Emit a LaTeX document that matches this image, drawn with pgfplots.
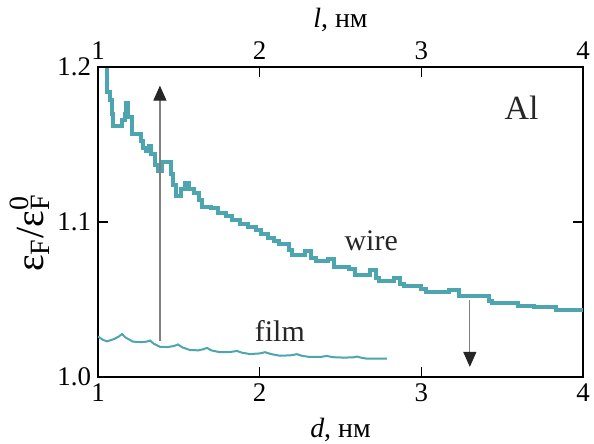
\documentclass[border=0pt]{standalone}
\usepackage{fontspec}
\setmainfont{Liberation Serif}
\usepackage{pgfplots}
\pgfplotsset{compat=1.18}
\usetikzlibrary{arrows.meta}
\definecolor{teal1}{RGB}{77,165,175}
\begin{document}
\begin{tikzpicture}
\begin{axis}[
 name=main,
 scale only axis, width=242.5bp, height=155bp,
 xmin=1, xmax=4, ymin=1.0, ymax=1.2,
 xtick={1,2,3,4}, xticklabels={1,2,3,4},
 ytick={1.0,1.1,1.2}, yticklabels={1.0,1.1,1.2},
 tick align=inside, tick pos=both, xticklabel pos=bottom,
 major tick length=5bp,
 axis line style={line width=1bp},
 tick style={line width=0.8bp, black},
 ticklabel style={font=\rmfamily\fontsize{13.5}{15}\selectfont},
 /pgf/number format/assume math mode=true,
 xlabel={\textit{d}, нм},
 xlabel style={font=\fontsize{14}{16}\selectfont, at={(axis description cs:0.5,-0.171)}, anchor=center},
 ylabel={ε\textsubscript{F}/ε\rlap{\textsuperscript{0}}\textsubscript{F}\hphantom{F}},
 ylabel style={font=\fontsize{20}{22}\selectfont, inner sep=1pt, at={(axis description cs:-0.14,0.5)}, anchor=center},
 clip=true,
]
\addplot[const plot, teal1, line width=2bp] coordinates {
(1.040,1.210) (1.056,1.184) (1.075,1.179) (1.088,1.170) (1.093,1.162)
(1.150,1.166) (1.166,1.170) (1.174,1.177) (1.188,1.168) (1.208,1.157)
(1.265,1.152) (1.278,1.148) (1.295,1.146) (1.315,1.149) (1.330,1.144)
(1.350,1.137) (1.370,1.133) (1.395,1.139) (1.450,1.131) (1.465,1.124)
(1.485,1.117) (1.515,1.121) (1.540,1.125) (1.565,1.121) (1.595,1.119)
(1.625,1.114) (1.645,1.110) (1.700,1.109) (1.740,1.106) (1.790,1.104)
(1.830,1.101) (1.880,1.099) (1.930,1.097) (1.980,1.095) (2.010,1.092)
(2.050,1.090) (2.090,1.088) (2.120,1.0858) (2.180,1.082) (2.200,1.079)
(2.280,1.081) (2.320,1.077) (2.350,1.075) (2.420,1.076) (2.460,1.071)
(2.550,1.070) (2.590,1.066) (2.680,1.069) (2.720,1.064) (2.740,1.062)
(2.830,1.064) (2.870,1.060) (2.890,1.059) (3.000,1.057) (3.030,1.055)
(3.170,1.056) (3.230,1.052) (3.420,1.049) (3.440,1.048) (3.600,1.046)
(3.700,1.045) (3.830,1.043) (4.000,1.043)
};
\addplot[teal1, line width=1bp] coordinates {
(1.000,1.0262) (1.030,1.0240) (1.056,1.0230) (1.100,1.0245) (1.130,1.0262)
(1.148,1.0277) (1.170,1.0255) (1.216,1.0228) (1.270,1.0225) (1.300,1.0228)
(1.322,1.0235) (1.345,1.0215) (1.383,1.0195) (1.430,1.0193) (1.470,1.0200)
(1.495,1.0210) (1.520,1.0192) (1.569,1.0174) (1.620,1.0172) (1.655,1.0180)
(1.674,1.0188) (1.700,1.0172) (1.754,1.0160) (1.810,1.0160) (1.860,1.0168)
(1.890,1.0157) (1.940,1.0148) (2.000,1.0152) (2.033,1.0160) (2.070,1.0148)
(2.126,1.0137) (2.190,1.0140) (2.231,1.0147) (2.260,1.0137) (2.311,1.0129)
(2.380,1.0130) (2.416,1.0136) (2.450,1.0128) (2.520,1.0125) (2.580,1.0127)
(2.602,1.0132) (2.630,1.0124) (2.664,1.0118) (2.787,1.0118)
};
\draw[black!50, line width=0.6bp, -{Triangle[length=7.5bp,width=6.5bp,color=black!85]}]
 (axis cs:1.383,1.023) -- (axis cs:1.383,1.188);
\draw[black!50, line width=0.6bp, -{Triangle[length=7.5bp,width=6.5bp,color=black!85]}]
 (axis cs:3.30,1.050) -- (axis cs:3.30,1.0065);
\node[font=\fontsize{17}{19}\selectfont, text=black!85] at (axis cs:3.62,1.174) {Al};
\node[font=\fontsize{15}{17}\selectfont, text=black!85] at (axis cs:2.69,1.088) {wire};
\node[font=\fontsize{15}{17}\selectfont, text=black!85] at (axis cs:2.125,1.030) {film};
\end{axis}
\begin{axis}[
 scale only axis, width=242.5bp, height=155bp,
 xmin=1, xmax=4, ymin=1.0, ymax=1.2,
 axis x line*=top, axis y line=none,
 xtick={1,2,3,4}, xticklabels={1,2,3,4},
 tick align=inside, major tick length=5bp,
 axis line style={line width=1bp},
 tick style={line width=0.8bp, black},
 ticklabel style={font=\rmfamily\fontsize{13.5}{15}\selectfont},
 /pgf/number format/assume math mode=true,
 xlabel={\textit{l}, нм},
 xlabel style={font=\fontsize{14}{16}\selectfont, at={(axis description cs:0.5,1.152)}, anchor=center},
]
\end{axis}
\pgfresetboundingbox
\path[use as bounding box] ([xshift=-49bp,yshift=-33.5bp]main.south west) rectangle ([xshift=5.5bp,yshift=33.5bp]main.north east);
\end{tikzpicture}
\end{document}
